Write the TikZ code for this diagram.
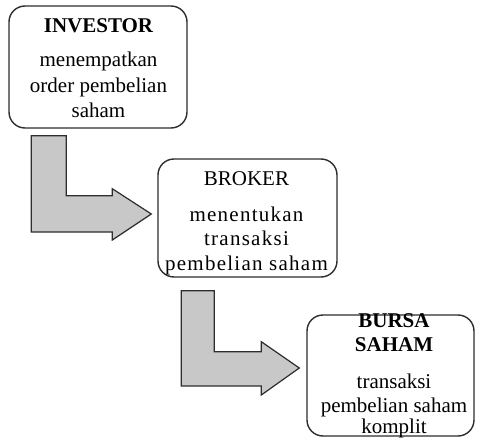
\documentclass[tikz,border=0pt]{standalone}
\usepackage{fontspec}
\setmainfont{Liberation Serif}
\newfontfamily\spacedfont[LetterSpace=6]{Liberation Serif}
\usetikzlibrary{calc}
\definecolor{arrowfill}{RGB}{200,200,200}
\definecolor{edgecol}{RGB}{45,45,45}
\tikzset{
  box/.style={draw=edgecol, line width=1.4pt, rounded corners=16pt, fill=white, inner sep=0pt},
  txt/.style={anchor=base, inner sep=0pt, font=\fontsize{21}{24}\selectfont},
  bentarrow/.style={draw=edgecol, line width=1.2pt, fill=arrowfill, line join=miter}
}
\begin{document}
\begin{tikzpicture}[x=1pt,y=-1pt]
\useasboundingbox (0,0) rectangle (477,439);
% boxes
\node[box, minimum width=178pt, minimum height=122pt] (inv) at (98,67) {};
\node[box, minimum width=179pt, minimum height=118pt] (brk) at (247.5,218) {};
\node[box, minimum width=167pt, minimum height=121pt] (bursa) at (390.5,375.5) {};
% arrows
\draw[bentarrow] ($(inv.south west)+(23,7)$) -- ++(35,0) -- ++(0,60) -- ++(46,0) -- ++(0,-7)
  -- ($(brk.west)+(-6,-4)$) -- ++(-39,26) -- ++(0,-8) -- ++(-81,0) -- cycle;
\draw[bentarrow] ($(brk.south west)+(24,13)$) -- ++(33,0) -- ++(0,61) -- ++(47,0) -- ++(0,-10)
  -- ($(bursa.west)+(-7,-7.5)$) -- ++(-38,27) -- ++(0,-9) -- ++(-80,0) -- cycle;
% texts box 1
\node[txt] (inv-t1) at (98.5,32.7) {\bfseries INVESTOR};
\node[txt] (inv-t2) at (98.5,66.7) {menempatkan};
\node[txt] (inv-t3) at (98.5,92.3) {order pembelian};
\node[txt] (inv-t4) at (98.5,117) {saham};
% texts box 2
\node[txt] (brk-t1) at (246.5,185) {BROKER};
\node[txt] (brk-t2) at (246.5,221.7) {\spacedfont menentukan};
\node[txt] (brk-t3) at (246.5,245) {\spacedfont transaksi};
\node[txt] (brk-t4) at (246.5,270) {\spacedfont pembelian saham};
% texts box 3
\node[txt] (bursa-t1) at (394,327.7) {\bfseries BURSA};
\node[txt] (bursa-t2) at (394,351.7) {\bfseries SAHAM};
\node[txt] (bursa-t3) at (394,388) {transaksi};
\node[txt] (bursa-t4) at (394,412) {pembelian saham};
\node[txt] (bursa-t5) at (394,433.5) {komplit};
\end{tikzpicture}
\end{document}
